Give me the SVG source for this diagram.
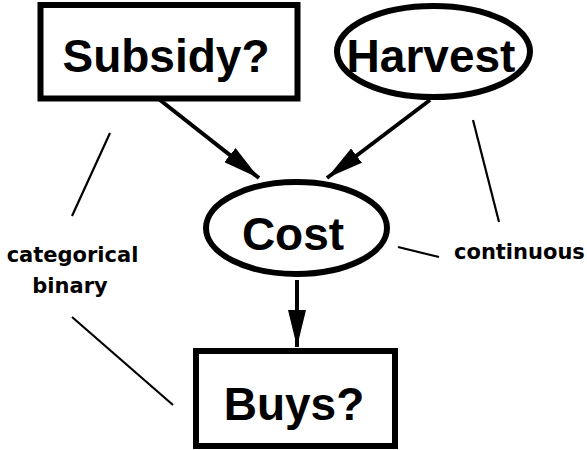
<svg xmlns="http://www.w3.org/2000/svg" width="587" height="450" viewBox="0 0 587 450">
<style>
.node{fill:#fff;stroke:#000;stroke-width:6}
.big{font-family:"Liberation Sans",Arial,sans-serif;font-weight:bold;font-size:46px;text-anchor:middle;fill:#000}
.small{font-family:"DejaVu Sans",sans-serif;font-weight:bold;font-size:21px;fill:#000}
.arrow{stroke:#000;stroke-width:4;fill:none}
.thin{stroke:#000;stroke-width:2.2;fill:none}
</style>
<defs>
<marker id="ah" viewBox="0 0 37 18" refX="37" refY="9" markerWidth="37" markerHeight="18" markerUnits="userSpaceOnUse" orient="auto">
<path d="M0,0 L37,9 L0,18 z" fill="#000"/>
</marker>
</defs>
<rect width="587" height="450" fill="#fff"/>
<g id="connectors">
<line class="arrow" x1="160" y1="100" x2="259" y2="178" marker-end="url(#ah)"/>
<line class="arrow" x1="430" y1="100" x2="327" y2="178" marker-end="url(#ah)"/>
<line class="arrow" x1="297" y1="280" x2="297" y2="347" marker-end="url(#ah)"/>
<line class="thin" x1="110" y1="133" x2="72" y2="216"/>
<line class="thin" x1="72" y1="317" x2="173" y2="405"/>
<line class="thin" x1="473" y1="120" x2="499" y2="222"/>
<line class="thin" x1="398" y1="247" x2="439" y2="257"/>
</g>
<g id="subsidy">
<rect class="node" x="40.5" y="5" width="257" height="93.5"/>
<text class="big" x="166" y="72">Subsidy?</text>
</g>
<g id="harvest">
<ellipse class="node" cx="433.5" cy="51.5" rx="96.5" ry="45.5"/>
<text class="big" x="431" y="72">Harvest</text>
</g>
<g id="cost">
<ellipse class="node" cx="296.5" cy="228" rx="90.5" ry="46"/>
<text class="big" x="293" y="250">Cost</text>
</g>
<g id="buys">
<rect class="node" x="196" y="351" width="199" height="95"/>
<text class="big" x="294" y="420">Buys?</text>
</g>
<g id="labels">
<text class="small" x="72.5" y="262" text-anchor="middle">categorical</text>
<text class="small" x="70" y="293" text-anchor="middle">binary</text>
<text class="small" x="454" y="259">continuous</text>
</g>
</svg>
